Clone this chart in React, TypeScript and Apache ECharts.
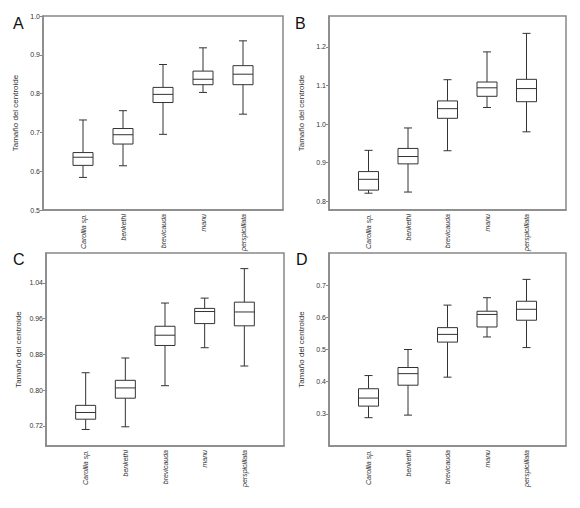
import React, { useEffect, useRef } from 'react';
import * as echarts from 'echarts';

// species along the x axis
const species = ['Carollia sp.', 'benkethi', 'brevicauda', 'manu', 'perspicillata'];

// five-number summaries per species: [min, q1, median, q3, max]
const boxesA = [
  [0.584, 0.615, 0.636, 0.648, 0.732],
  [0.614, 0.670, 0.694, 0.710, 0.756],
  [0.695, 0.777, 0.798, 0.816, 0.875],
  [0.803, 0.823, 0.837, 0.858, 0.918],
  [0.747, 0.823, 0.850, 0.872, 0.936],
];
const boxesB = [
  [0.821, 0.829, 0.857, 0.877, 0.932],
  [0.824, 0.897, 0.916, 0.937, 0.990],
  [0.931, 1.015, 1.040, 1.060, 1.115],
  [1.043, 1.072, 1.094, 1.109, 1.187],
  [0.980, 1.058, 1.092, 1.116, 1.235],
];
const boxesC = [
  [0.712, 0.735, 0.750, 0.766, 0.839],
  [0.718, 0.782, 0.805, 0.822, 0.872],
  [0.810, 0.900, 0.923, 0.943, 0.995],
  [0.895, 0.949, 0.976, 0.983, 1.006],
  [0.854, 0.944, 0.975, 0.997, 1.072],
];
const boxesD = [
  [0.288, 0.324, 0.349, 0.378, 0.419],
  [0.296, 0.389, 0.425, 0.444, 0.500],
  [0.414, 0.523, 0.547, 0.568, 0.638],
  [0.539, 0.570, 0.609, 0.619, 0.661],
  [0.506, 0.591, 0.625, 0.650, 0.718],
];

// y tick labels per panel
const ticksA = [0.5, 0.6, 0.7, 0.8, 0.9, 1.0];
const ticksB = [0.8, 0.9, 1.0, 1.1, 1.2];
const ticksC = [0.72, 0.8, 0.88, 0.96, 1.04];
const ticksD = [0.3, 0.4, 0.5, 0.6, 0.7];

const panelLetters = ['A', 'B', 'C', 'D'];
const yTitle = 'Tamaño del centroide';

const FONT = 'Arial, "Liberation Sans", sans-serif';
const FRAME = '#888888';
const INK = '#333333';

const panels = [
  { boxes: boxesA, ticks: ticksA, min: 0.5, max: 1.0, digits: 1, grid: { left: 43, top: 16, width: 240, height: 194 }, letter: { left: 13, top: 15 } },
  { boxes: boxesB, ticks: ticksB, min: 0.7775, max: 1.28, digits: 1, grid: { left: 329, top: 16, width: 237, height: 194 }, letter: { left: 295, top: 15 } },
  { boxes: boxesC, ticks: ticksC, min: 0.675, max: 1.107, digits: 2, grid: { left: 46, top: 253, width: 238, height: 193 }, letter: { left: 13, top: 251 } },
  { boxes: boxesD, ticks: ticksD, min: 0.2, max: 0.8, digits: 1, grid: { left: 329, top: 253, width: 237, height: 193 }, letter: { left: 296, top: 251 } },
];

const renderBox = (params: any, api: any) => {
  const x = api.value(0);
  const lo = api.coord([x, api.value(1)]);
  const q1 = api.coord([x, api.value(2)]);
  const md = api.coord([x, api.value(3)]);
  const q3 = api.coord([x, api.value(4)]);
  const hi = api.coord([x, api.value(5)]);
  const bw = 20;
  const cw = 8;
  const cx = lo[0];
  const line = { stroke: INK, lineWidth: 1 };
  return {
    type: 'group',
    children: [
      { type: 'line', shape: { x1: cx, y1: lo[1], x2: cx, y2: q1[1] }, style: line },
      { type: 'line', shape: { x1: cx, y1: q3[1], x2: cx, y2: hi[1] }, style: line },
      { type: 'line', shape: { x1: cx - cw / 2, y1: lo[1], x2: cx + cw / 2, y2: lo[1] }, style: line },
      { type: 'line', shape: { x1: cx - cw / 2, y1: hi[1], x2: cx + cw / 2, y2: hi[1] }, style: line },
      {
        type: 'rect',
        shape: { x: cx - bw / 2, y: q3[1], width: bw, height: q1[1] - q3[1] },
        style: { fill: '#ffffff', stroke: INK, lineWidth: 1 },
      },
      { type: 'line', shape: { x1: cx - bw / 2, y1: md[1], x2: cx + bw / 2, y2: md[1] }, style: line },
    ],
  };
};

export default function App() {
  const chartRef = useRef<HTMLDivElement>(null);

  useEffect(() => {
    if (!chartRef.current) return;
    const chart = echarts.init(chartRef.current, null, { renderer: 'svg' });

    const option: echarts.EChartsOption = {
      animation: false,
      backgroundColor: '#ffffff',
      title: panels.map((p, i) => ({
        text: panelLetters[i],
        left: p.letter.left,
        top: p.letter.top,
        padding: 0,
        textStyle: { fontFamily: FONT, fontSize: 16, fontWeight: 'normal', color: '#111' },
      })),
      grid: panels.map(p => ({
        ...p.grid,
        show: true,
        borderColor: FRAME,
        borderWidth: 1.5,
        backgroundColor: 'transparent',
      })),
      xAxis: panels.map((p, i) => ({
        type: 'value',
        gridIndex: i,
        min: 0,
        max: 6,
        interval: 1,
        splitLine: { show: false },
        axisTick: { show: false },
        axisLine: { show: true, lineStyle: { color: FRAME, width: 1.5 } },
        axisLabel: {
          customValues: [1, 2, 3, 4, 5],
          rotate: 90,
          margin: 4,
          fontSize: 7,
          fontStyle: 'italic',
          fontFamily: FONT,
          color: INK,
          formatter: (v: number) => species[Math.round(v) - 1] ?? '',
        },
      })),
      yAxis: panels.map((p, i) => ({
        type: 'value',
        gridIndex: i,
        min: p.min,
        max: p.max,
        name: yTitle,
        nameLocation: 'middle',
        nameRotate: 90,
        nameGap: 24,
        nameTextStyle: { fontFamily: FONT, fontSize: 8, color: INK },
        splitLine: { show: false },
        axisLine: { show: true, lineStyle: { color: FRAME, width: 1.5 } },
        axisTick: {
          show: true,
          length: 3,
          customValues: p.ticks,
          lineStyle: { color: FRAME, width: 1 },
        },
        axisLabel: {
          customValues: p.ticks,
          margin: 3,
          fontSize: 7,
          fontFamily: FONT,
          color: INK,
          formatter: (v: number) => v.toFixed(p.digits),
        },
      })),
      series: panels.map((p, i) => ({
        type: 'custom',
        xAxisIndex: i,
        yAxisIndex: i,
        renderItem: renderBox,
        encode: { x: 0, y: [1, 2, 3, 4, 5] },
        data: p.boxes.map((b, j) => [j + 1, ...b]),
      })),
    };

    chart.setOption(option);
    return () => {
      chart.dispose();
    };
  }, []);

  return (
    <div
      ref={chartRef}
      style={{ position: 'fixed', left: 0, top: 0, width: 580, height: 508, background: '#fff' }}
    />
  );
}
